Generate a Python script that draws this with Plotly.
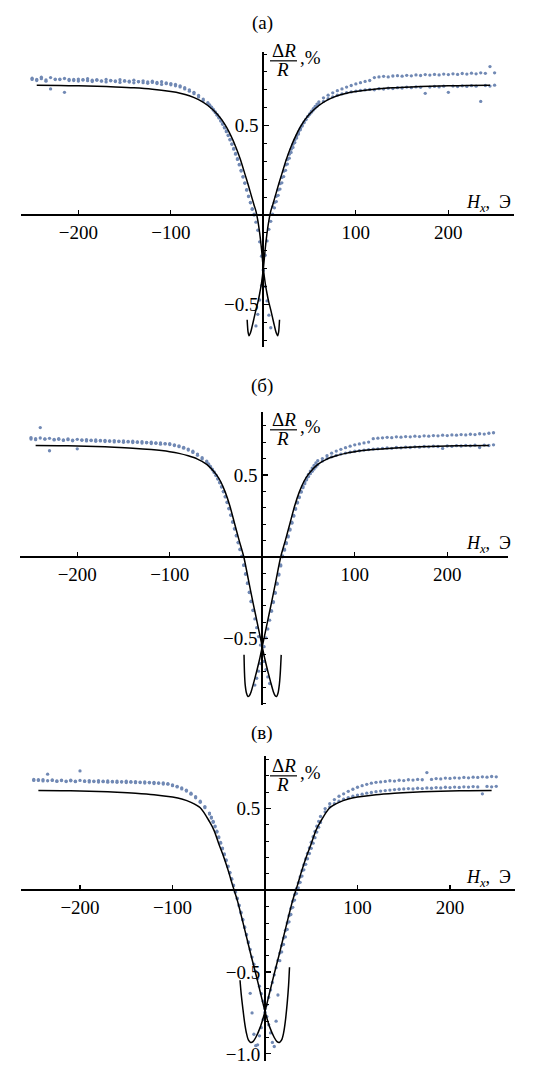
import plotly.graph_objects as go

W, H = 534, 1085
FONT = "Liberation Serif, Times New Roman, Times, serif"
DOT_COLOR = "#7189b4"

# ---------------- field grid (Oe) for the measured points ----------------
H_LEFT = list(range(-250, -64, 5))
H_MID = list(range(-60, 61, 2))
H_RIGHT = list(range(65, 251, 5))
H_GRID = H_LEFT + H_MID + H_RIGHT

X_TICKS = [-200, -100, 100, 200]
X_TICKTEXT = ["−200", "−100", "100", "200"]

# ---------------- panel (а) ----------------
A_SWEEP1 = [
    0.765, 0.758, 0.762, 0.755, 0.768, 0.760, 0.757, 0.763, 0.758, 0.752, 0.760, 0.756, 0.762, 0.754, 0.757, 0.750, 0.758, 0.753, 0.749, 0.756,
    0.751, 0.748, 0.754, 0.746, 0.750, 0.744, 0.748, 0.741, 0.745, 0.738, 0.735, 0.730, 0.722, 0.712, 0.700, 0.686, 0.668, 0.648,
    0.628, 0.615, 0.603, 0.590, 0.576, 0.562, 0.546, 0.528, 0.511, 0.490, 0.470, 0.447, 0.423, 0.398, 0.372, 0.344, 0.315, 0.283, 0.250, 0.215,
    0.180, 0.142, 0.106, 0.070, 0.035, 0.000, -0.040, -0.085, -0.150, -0.230, -0.310, -0.400, -0.480, -0.560, -0.630, 0.045, 0.070, 0.105, 0.140, 0.175,
    0.210, 0.245, 0.280, 0.310, 0.340, 0.368, 0.395, 0.420, 0.442, 0.465, 0.485, 0.503, 0.520, 0.535, 0.550, 0.563, 0.575, 0.587, 0.598, 0.608, 0.618,
    0.635, 0.650, 0.660, 0.670, 0.677, 0.684, 0.688, 0.693, 0.697, 0.699, 0.702, 0.700, 0.706, 0.704, 0.709, 0.707, 0.712, 0.710, 0.715, 0.712,
    0.716, 0.714, 0.680, 0.715, 0.719, 0.716, 0.720, 0.686, 0.721, 0.718, 0.722, 0.719, 0.723, 0.720, 0.635, 0.724, 0.721, 0.726,
]
A_SWEEP2 = [
    0.758, 0.752, 0.770, 0.748, 0.705, 0.757, 0.760, 0.686, 0.752, 0.758, 0.749, 0.755, 0.751, 0.746, 0.753, 0.748, 0.744, 0.750, 0.746, 0.741,
    0.748, 0.743, 0.739, 0.745, 0.740, 0.736, 0.741, 0.735, 0.730, 0.734, 0.728, 0.722, 0.716, 0.705, 0.692, 0.678, 0.660, 0.640,
    0.622, 0.612, 0.600, 0.586, 0.573, 0.558, 0.543, 0.525, 0.507, 0.487, 0.466, 0.444, 0.420, 0.395, 0.368, 0.340, 0.311, 0.280, 0.246, 0.212,
    0.177, 0.139, 0.103, 0.068, 0.032, 0.005, -0.620, -0.555, -0.475, -0.395, -0.305, -0.225, -0.145, -0.080, -0.035, 0.005, 0.040, 0.075, 0.110, 0.145,
    0.180, 0.215, 0.250, 0.285, 0.318, 0.350, 0.378, 0.405, 0.430, 0.453, 0.476, 0.497, 0.516, 0.533, 0.550, 0.565, 0.580, 0.594, 0.607, 0.620, 0.632,
    0.655, 0.670, 0.683, 0.695, 0.705, 0.715, 0.724, 0.733, 0.740, 0.747, 0.752, 0.768, 0.772, 0.775, 0.772, 0.777, 0.779, 0.776, 0.781, 0.778,
    0.783, 0.780, 0.785, 0.782, 0.786, 0.783, 0.788, 0.785, 0.789, 0.786, 0.791, 0.788, 0.793, 0.789, 0.795, 0.792, 0.830, 0.795,
]
A_FIT1_X = [-245, -220, -200, -180, -160, -140, -120, -100, -90, -80, -70, -60, -50, -45, -40, -35, -30, -25, -20, -16,
            -12, -10, -8, -6, -4, -2, 0, 2, 4, 6, 8, 10, 12, 14, 15.5, 16.5, 17.5]
A_FIT1_Y = [0.725, 0.724, 0.722, 0.720, 0.716, 0.711, 0.703, 0.690, 0.681, 0.667, 0.645, 0.612, 0.565, 0.533, 0.492, 0.442, 0.383, 0.313, 0.230, 0.162,
            0.090, 0.055, 0.022, -0.030, -0.100, -0.190, -0.300, -0.380, -0.440, -0.490, -0.530, -0.575, -0.620, -0.660, -0.675, -0.655, -0.585]
A_FIT2_X = [245, 220, 200, 180, 160, 140, 120, 100, 90, 80, 70, 60, 50, 45, 40, 35, 30, 25, 20, 16,
            12, 10, 8, 6, 4, 2, 0, -2, -4, -6, -8, -10, -12, -14, -15.5, -16.5, -17.5]
A_FIT2_Y = [0.725, 0.724, 0.722, 0.720, 0.716, 0.711, 0.703, 0.690, 0.681, 0.667, 0.645, 0.612, 0.565, 0.533, 0.492, 0.442, 0.383, 0.313, 0.230, 0.162,
            0.090, 0.055, 0.022, -0.030, -0.100, -0.190, -0.300, -0.380, -0.440, -0.490, -0.530, -0.575, -0.620, -0.660, -0.675, -0.655, -0.585]

# ---------------- panel (б) ----------------
B_SWEEP1 = [
    0.728, 0.722, 0.726, 0.719, 0.724, 0.717, 0.722, 0.715, 0.720, 0.713, 0.718, 0.712, 0.716, 0.710, 0.714, 0.708, 0.712, 0.706, 0.710, 0.704,
    0.708, 0.702, 0.706, 0.700, 0.703, 0.697, 0.700, 0.694, 0.696, 0.690, 0.691, 0.684, 0.678, 0.669, 0.658, 0.645, 0.628, 0.606,
    0.585, 0.568, 0.552, 0.536, 0.518, 0.499, 0.478, 0.455, 0.429, 0.400, 0.368, 0.334, 0.296, 0.256, 0.214, 0.172, 0.130, 0.088, 0.046, 0.004,
    -0.050, -0.104, -0.160, -0.216, -0.272, -0.326, -0.380, -0.434, -0.488, -0.540, -0.590, -0.640, -0.690, -0.735, -0.775, -0.334, -0.280, -0.224, -0.168, -0.112,
    -0.056, 0.000, 0.040, 0.080, 0.121, 0.163, 0.205, 0.248, 0.290, 0.328, 0.362, 0.395, 0.422, 0.447, 0.470, 0.490, 0.508, 0.522, 0.536, 0.549, 0.562,
    0.585, 0.600, 0.611, 0.620, 0.628, 0.634, 0.640, 0.645, 0.648, 0.652, 0.655, 0.658, 0.660, 0.662, 0.665, 0.663, 0.668, 0.666, 0.670, 0.668,
    0.672, 0.670, 0.674, 0.672, 0.676, 0.674, 0.662, 0.677, 0.675, 0.679, 0.677, 0.681, 0.678, 0.682, 0.668, 0.683, 0.680, 0.684,
]
B_SWEEP2 = [
    0.720, 0.716, 0.790, 0.721, 0.648, 0.714, 0.718, 0.711, 0.716, 0.709, 0.660, 0.715, 0.708, 0.713, 0.706, 0.711, 0.704, 0.709, 0.702, 0.707,
    0.700, 0.705, 0.698, 0.702, 0.695, 0.699, 0.692, 0.696, 0.688, 0.692, 0.686, 0.680, 0.673, 0.664, 0.652, 0.638, 0.620, 0.598,
    0.580, 0.564, 0.548, 0.532, 0.515, 0.496, 0.475, 0.452, 0.426, 0.397, 0.366, 0.331, 0.293, 0.253, 0.211, 0.169, 0.127, 0.085, 0.043, 0.001,
    -0.053, -0.107, -0.163, -0.219, -0.275, -0.329, -0.785, -0.743, -0.700, -0.653, -0.603, -0.550, -0.496, -0.442, -0.388, -0.330, -0.274, -0.218, -0.162, -0.106,
    -0.050, 0.005, 0.046, 0.086, 0.127, 0.169, 0.211, 0.253, 0.295, 0.333, 0.366, 0.400, 0.430, 0.457, 0.482, 0.504, 0.524, 0.542, 0.558, 0.573, 0.587,
    0.600, 0.618, 0.633, 0.646, 0.657, 0.667, 0.676, 0.684, 0.690, 0.696, 0.701, 0.722, 0.725, 0.727, 0.730, 0.728, 0.733, 0.731, 0.735, 0.733,
    0.737, 0.735, 0.739, 0.737, 0.741, 0.739, 0.743, 0.741, 0.745, 0.743, 0.747, 0.745, 0.749, 0.747, 0.752, 0.750, 0.755, 0.758,
]
B_FIT1_X = [-245, -220, -200, -180, -160, -140, -120, -100, -90, -80, -70, -60, -50, -45, -40, -35, -30, -25, -20, -15,
            -10, -5, 0, 3, 6, 9, 12, 14, 15.5, 17, 18.5, 19.5, 20.5]
B_FIT1_Y = [0.680, 0.679, 0.677, 0.674, 0.670, 0.664, 0.655, 0.642, 0.632, 0.617, 0.597, 0.565, 0.505, 0.460, 0.395, 0.310, 0.205, 0.100, 0.000, -0.140,
            -0.280, -0.415, -0.550, -0.630, -0.700, -0.765, -0.825, -0.850, -0.855, -0.835, -0.780, -0.710, -0.600]
B_FIT2_X = [245, 220, 200, 180, 160, 140, 120, 100, 90, 80, 70, 60, 50, 45, 40, 35, 30, 25, 20, 15,
            10, 5, 0, -3, -6, -9, -12, -14, -15.5, -17, -18.5, -19.2, -19.7]
B_FIT2_Y = [0.680, 0.679, 0.677, 0.674, 0.670, 0.664, 0.655, 0.642, 0.632, 0.617, 0.597, 0.565, 0.505, 0.460, 0.395, 0.310, 0.205, 0.100, 0.000, -0.140,
            -0.280, -0.415, -0.550, -0.630, -0.700, -0.765, -0.825, -0.850, -0.855, -0.835, -0.780, -0.710, -0.600]

# ---------------- panel (в) ----------------
C_SWEEP1 = [
    0.678, 0.672, 0.676, 0.670, 0.675, 0.669, 0.674, 0.668, 0.673, 0.667, 0.672, 0.666, 0.671, 0.665, 0.670, 0.664, 0.669, 0.663, 0.668, 0.662,
    0.667, 0.661, 0.665, 0.659, 0.663, 0.657, 0.660, 0.654, 0.656, 0.649, 0.645, 0.636, 0.626, 0.612, 0.594, 0.572, 0.545, 0.512,
    0.472, 0.448, 0.422, 0.393, 0.361, 0.327, 0.293, 0.258, 0.222, 0.186, 0.148, 0.110, 0.071, 0.032, -0.008, -0.048, -0.090, -0.134, -0.178, -0.224,
    -0.270, -0.316, -0.362, -0.408, -0.452, -0.496, -0.540, -0.586, -0.632, -0.678, -0.724, -0.772, -0.822, -0.872, -0.930, -0.955, -0.800, -0.640, -0.430, -0.377,
    -0.331, -0.285, -0.239, -0.193, -0.148, -0.104, -0.060, -0.020, 0.015, 0.049, 0.087, 0.125, 0.159, 0.193, 0.225, 0.257, 0.288, 0.322, 0.356, 0.386, 0.415,
    0.480, 0.510, 0.530, 0.545, 0.557, 0.567, 0.575, 0.582, 0.588, 0.594, 0.598, 0.603, 0.607, 0.610, 0.613, 0.616, 0.618, 0.620, 0.622, 0.620,
    0.624, 0.622, 0.626, 0.624, 0.628, 0.626, 0.630, 0.628, 0.631, 0.629, 0.633, 0.631, 0.634, 0.632, 0.590, 0.635, 0.633, 0.636,
]
C_SWEEP2 = [
    0.672, 0.677, 0.669, 0.710, 0.672, 0.666, 0.671, 0.665, 0.670, 0.664, 0.730, 0.669, 0.663, 0.668, 0.662, 0.667, 0.661, 0.666, 0.660, 0.665,
    0.659, 0.664, 0.658, 0.662, 0.656, 0.660, 0.653, 0.657, 0.650, 0.652, 0.640, 0.632, 0.620, 0.607, 0.588, 0.566, 0.538, 0.505,
    0.466, 0.442, 0.416, 0.388, 0.356, 0.322, 0.288, 0.254, 0.218, 0.182, 0.144, 0.106, 0.067, 0.028, -0.012, -0.052, -0.094, -0.138, -0.182, -0.228,
    -0.274, -0.320, -0.630, -0.750, -0.880, -0.950, -0.945, -0.890, -0.840, -0.790, -0.745, -0.700, -0.655, -0.609, -0.563, -0.517, -0.473, -0.429, -0.384, -0.338,
    -0.292, -0.246, -0.200, -0.155, -0.111, -0.067, -0.027, 0.010, 0.045, 0.082, 0.120, 0.156, 0.192, 0.226, 0.260, 0.294, 0.328, 0.360, 0.392, 0.422, 0.452,
    0.500, 0.530, 0.555, 0.575, 0.590, 0.605, 0.618, 0.630, 0.640, 0.648, 0.655, 0.660, 0.663, 0.666, 0.670, 0.668, 0.673, 0.671, 0.676, 0.674,
    0.678, 0.676, 0.720, 0.678, 0.683, 0.681, 0.686, 0.684, 0.688, 0.686, 0.690, 0.688, 0.692, 0.690, 0.694, 0.692, 0.696, 0.694,
]
C_FIT1_X = [-245, -220, -200, -180, -160, -140, -120, -100, -90, -80, -70, -60, -55, -50, -45, -40, -35, -30, -25, -20,
            -15, -10, -5, 0, 5, 10, 13, 15.5, 18, 20, 22, 24, 25.5, 26.5]
C_FIT1_Y = [0.610, 0.609, 0.607, 0.604, 0.600, 0.594, 0.585, 0.570, 0.558, 0.538, 0.505, 0.420, 0.365, 0.285, 0.210, 0.125, 0.030, -0.060, -0.170, -0.285,
            -0.400, -0.510, -0.625, -0.740, -0.835, -0.900, -0.925, -0.930, -0.915, -0.875, -0.800, -0.690, -0.580, -0.470]
C_FIT2_X = [245, 220, 200, 180, 160, 140, 120, 100, 90, 80, 70, 60, 55, 50, 45, 40, 35, 30, 25, 20,
            15, 10, 5, 0, -5, -10, -13, -15.5, -18, -20, -22, -24, -25.8, -27]
C_FIT2_Y = [0.610, 0.609, 0.607, 0.604, 0.600, 0.594, 0.585, 0.570, 0.558, 0.538, 0.505, 0.420, 0.365, 0.285, 0.210, 0.125, 0.030, -0.060, -0.170, -0.285,
            -0.400, -0.510, -0.625, -0.740, -0.835, -0.900, -0.925, -0.930, -0.915, -0.875, -0.810, -0.720, -0.630, -0.550]

for arr in (A_SWEEP1, A_SWEEP2, B_SWEEP1, B_SWEEP2, C_SWEEP1, C_SWEEP2):
    assert len(arr) == len(H_GRID), len(arr)

# ---------------- layout geometry (pixels) ----------------
PPO = 0.925  # px per Oe

PANELS = [
    dict(sweeps=(A_SWEEP1, A_SWEEP2), fits=((A_FIT1_X, A_FIT1_Y), (A_FIT2_X, A_FIT2_Y)),
         label="(а)", left=21.0, xr=[-262, 271], top=52.0, ppu=179.4, yr=[-0.737, 0.912],
         yticks=[-0.5, 0.5], yticktext=["−0.5", "0.5"], title_y=23, frac_y=61),
    dict(sweeps=(B_SWEEP1, B_SWEEP2), fits=((B_FIT1_X, B_FIT1_Y), (B_FIT2_X, B_FIT2_Y)),
         label="(б)", left=19.9, xr=[-262, 266], top=413.3, ppu=164.0, yr=[-0.908, 0.884],
         yticks=[-0.5, 0.5], yticktext=["−0.5", "0.5"], title_y=387, frac_y=431),
    dict(sweeps=(C_SWEEP1, C_SWEEP2), fits=((C_FIT1_X, C_FIT1_Y), (C_FIT2_X, C_FIT2_Y)),
         label="(в)", left=20.8, xr=[-264, 270], top=758.3, ppu=164.0, yr=[-1.045, 0.82],
         yticks=[-1.0, -0.5, 0.5], yticktext=["−1.0", "−0.5", "0.5"], title_y=735.5, frac_y=778),
]


def fx(p):
    return p / W


def fy(p):
    return 1 - p / H


fig = go.Figure()
layout = dict(
    width=W, height=H, margin=dict(l=0, r=0, t=0, b=0),
    paper_bgcolor="white", plot_bgcolor="white", showlegend=False,
    font=dict(family=FONT, color="black"),
    annotations=[], shapes=[],
)
tickfont = dict(family=FONT, size=19, color="black")

for i, p in enumerate(PANELS, start=1):
    xs = "" if i == 1 else str(i)
    xref, yref = "x" + xs, "y" + xs
    right = p["left"] + (p["xr"][1] - p["xr"][0]) * PPO
    x0px = p["left"] - p["xr"][0] * PPO
    bottom = p["top"] + (p["yr"][1] - p["yr"][0]) * p["ppu"]
    y0px = p["top"] + p["yr"][1] * p["ppu"]

    for sw in p["sweeps"]:
        fig.add_trace(go.Scatter(x=H_GRID, y=sw, mode="markers", xaxis=xref, yaxis=yref,
                                 marker=dict(size=3.3, color=DOT_COLOR), hoverinfo="skip"))
    for fxs, fys in p["fits"]:
        fig.add_trace(go.Scatter(x=fxs, y=fys, mode="lines", xaxis=xref, yaxis=yref,
                                 line=dict(color="black", width=1.5, shape="spline", smoothing=0.8),
                                 hoverinfo="skip"))

    minors = [round(k * 0.1, 1) for k in range(-10, 10)
              if p["yr"][0] <= k * 0.1 <= p["yr"][1] and round(k * 0.1, 1) not in p["yticks"] + [0.0]]

    layout["xaxis" + xs] = dict(
        domain=[fx(p["left"]), fx(right)], range=p["xr"], anchor="free", position=fy(y0px),
        showline=True, linecolor="black", linewidth=2, ticks="inside", ticklen=4, tickwidth=1.2,
        tickcolor="black", tickvals=X_TICKS, ticktext=X_TICKTEXT, tickfont=tickfont,
        showgrid=False, zeroline=False, fixedrange=True,
    )
    layout["yaxis" + xs] = dict(
        domain=[fy(bottom), fy(p["top"])], range=p["yr"], anchor="free", position=fx(x0px),
        showline=True, linecolor="black", linewidth=2, ticks="inside", ticklen=5, tickwidth=1.2,
        tickcolor="black", tickvals=p["yticks"], ticktext=p["yticktext"], tickfont=tickfont,
        minor=dict(ticks="inside", ticklen=3, tickwidth=1, tickcolor="black", tickvals=minors),
        showgrid=False, zeroline=False, fixedrange=True,
    )

    ann = layout["annotations"]
    ann.append(dict(text=p["label"], x=fx(262), y=fy(p["title_y"]), xref="paper", yref="paper",
                    showarrow=False, font=dict(family=FONT, size=19, color="black"),
                    xanchor="center", yanchor="middle"))
    fy_line = p["frac_y"]
    ann.append(dict(text="Δ<i>R</i>", x=fx(283.5), y=fy(fy_line - 10), xref="paper", yref="paper",
                    showarrow=False, font=dict(family=FONT, size=19, color="black"),
                    xanchor="center", yanchor="middle"))
    ann.append(dict(text="<i>R</i>", x=fx(282), y=fy(fy_line + 9), xref="paper", yref="paper",
                    showarrow=False, font=dict(family=FONT, size=19, color="black"),
                    xanchor="center", yanchor="middle"))
    ann.append(dict(text=",%", x=fx(298), y=fy(fy_line - 3), xref="paper", yref="paper",
                    showarrow=False, font=dict(family=FONT, size=19, color="black"),
                    xanchor="left", yanchor="middle"))
    layout["shapes"].append(dict(type="line", xref="paper", yref="paper",
                                 x0=fx(270), x1=fx(297), y0=fy(fy_line), y1=fy(fy_line),
                                 line=dict(color="black", width=1.2)))
    ann.append(dict(text="<i>H<sub>x</sub></i>,  Э", x=fx(513), y=fy(y0px - 12), xref="paper", yref="paper",
                    showarrow=False, font=dict(family=FONT, size=18, color="black"),
                    xanchor="right", yanchor="middle"))

fig.update_layout(**layout)
fig.write_html("out.html", config={"displayModeBar": False, "staticPlot": True},
               post_script="document.body.style.margin='0px';")
